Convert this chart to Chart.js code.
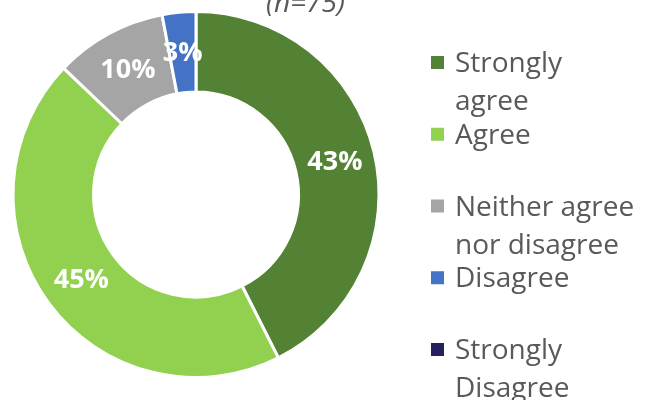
<!DOCTYPE html>
<html>
<head>
<meta charset="utf-8">
<script src="https://cdn.jsdelivr.net/npm/chart.js@4"></script>
<style>
  body { margin: 0; background: #fff; }
  #wrap { width: 647px; height: 400px; }
</style>
</head>
<body>
<div id="wrap"><canvas id="myChart" width="647" height="400"></canvas></div>
<script>
// data
const categories = ["Strongly\nagree", "Agree", "Neither agree\nnor disagree", "Disagree", "Strongly\nDisagree"];
const percentages = [43, 45, 10, 3, 0];
const sliceColors = ['#548235', '#92D050', '#A5A5A5', '#4472C4', '#25215E'];
const subtitle = "(n=75)";

// percent labels in the middle of each slice
const sliceLabels = {
    id: 'sliceLabels',
    afterDatasetsDraw(chart) {
        const ctx = chart.ctx;
        const meta = chart.getDatasetMeta(0);
        ctx.save();
        ctx.fillStyle = '#ffffff';
        ctx.font = "bold 27px 'Open Sans', sans-serif";
        ctx.textAlign = 'center';
        ctx.textBaseline = 'middle';
        meta.data.forEach((arc, i) => {
            const v = chart.data.datasets[0].data[i];
            if (!v) return;
            const pos = arc.tooltipPosition();
            ctx.fillText(v + '%', pos.x, pos.y + 1);
        });
        ctx.restore();
    }
};

// legend on the right with wrapped text, plus the clipped subtitle at the top
const sideLegend = {
    id: 'sideLegend',
    afterDraw(chart) {
        const ctx = chart.ctx;
        const colors = chart.data.datasets[0].backgroundColor;
        ctx.save();
        ctx.font = "28px 'Open Sans', sans-serif";
        ctx.textBaseline = 'alphabetic';
        ctx.textAlign = 'left';
        chart.data.labels.forEach((label, i) => {
            const top = 56 + i * 71.75;
            ctx.fillStyle = colors[i];
            ctx.fillRect(431, top, 13, 13);
            ctx.fillStyle = '#595959';
            label.split('\n').forEach((line, j) => {
                ctx.fillText(line, 455, top + 16 + j * 38);
            });
        });
        ctx.font = "italic 28px 'Open Sans', sans-serif";
        ctx.fillStyle = '#595959';
        ctx.fillText(subtitle, 266, 12);
        ctx.restore();
    }
};

const chart = document.getElementById("myChart");

const data = {
    labels: categories,
    datasets: [{
        data: percentages,
        backgroundColor: sliceColors,
        borderColor: '#ffffff',
        borderWidth: 3,
    }]
};

const config = {
    type: 'doughnut',
    data: data,
    options: {
        responsive: false,
        animation: false,
        cutout: '56%',
        layout: {
            padding: { left: 11, top: 10, right: 266, bottom: 21 }
        },
        plugins: {
            legend: { display: false },
            tooltip: { enabled: false },
            title: { display: false }
        }
    },
    plugins: [sliceLabels, sideLegend]
};

const myChart = new Chart(chart, config);
</script>
</body>
</html>
